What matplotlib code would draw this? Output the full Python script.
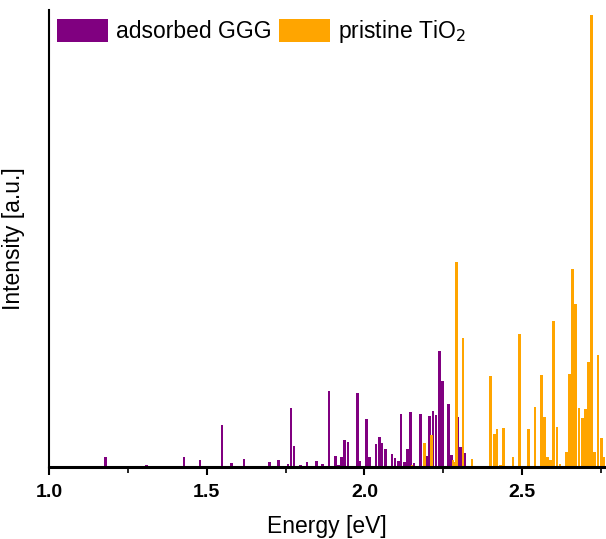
import matplotlib
matplotlib.use("Agg")
import matplotlib.pyplot as plt
from matplotlib.ticker import MultipleLocator, FormatStrFormatter
from matplotlib.patches import Patch

plt.rcParams['font.family'] = ['Liberation Sans', 'DejaVu Sans']

# Excitation energies (eV) and oscillator intensities (a.u.)
ggg_energy = [1.179, 1.309, 1.428, 1.469, 1.479, 1.548, 1.579, 1.618, 1.698, 1.727,
              1.758, 1.767, 1.777, 1.797, 1.818, 1.847, 1.868, 1.888, 1.908, 1.918,
              1.927, 1.937, 1.948, 1.967, 1.977, 1.986, 1.997, 2.007, 2.017, 2.037,
              2.047, 2.056, 2.066, 2.087, 2.097, 2.107, 2.116, 2.127, 2.137, 2.147,
              2.157, 2.177, 2.198, 2.207, 2.217, 2.227, 2.237, 2.247, 2.267, 2.277,
              2.297, 2.305, 2.317]
ggg_intensity = [2.2, 0.4, 2.2, 0.2, 1.5, 9.3, 0.9, 1.8, 1.1, 1.5,
                 0.7, 13.1, 4.6, 0.4, 1.1, 1.3, 0.7, 16.8, 2.4, 0.4,
                 2.2, 6.0, 5.5, 0.2, 16.4, 1.3, 0.2, 10.6, 2.2, 5.1,
                 6.6, 5.4, 4.0, 2.9, 1.9, 1.3, 11.7, 1.1, 3.9, 12.2,
                 0.9, 11.7, 2.5, 11.3, 12.4, 11.4, 25.7, 19.0, 13.9, 2.7,
                 11.1, 4.4, 3.0]

tio2_energy = [2.151, 2.187, 2.191, 2.212, 2.281, 2.285, 2.291, 2.312, 2.341, 2.400,
               2.412, 2.420, 2.431, 2.441, 2.471, 2.491, 2.521, 2.541, 2.551, 2.561,
               2.570, 2.581, 2.590, 2.600, 2.610, 2.620, 2.640, 2.650, 2.660, 2.670,
               2.680, 2.691, 2.700, 2.710, 2.720, 2.730, 2.740, 2.751, 2.760]
tio2_intensity = [0.4, 0.3, 5.2, 7.1, 1.5, 1.1, 45.4, 28.5, 1.8, 20.1,
                  7.4, 8.3, 0.4, 8.7, 2.1, 29.4, 8.5, 13.2, 0.2, 20.4,
                  11.1, 2.3, 1.5, 32.3, 8.8, 0.7, 3.3, 20.6, 43.8, 36.1,
                  13.1, 10.8, 12.8, 23.2, 100.0, 3.3, 24.8, 6.4, 2.2]

series_labels = ["adsorbed GGG", "pristine TiO$_2$"]
series_colors = ["#800080", "#FFA500"]

fig = plt.figure(figsize=(6.06, 5.39), dpi=100)
ax = fig.add_axes([0.081, 0.1336, 0.917, 0.8478])

bar_w = 0.0085
ax.bar(ggg_energy, ggg_intensity, width=bar_w, color=series_colors[0], linewidth=0)
ax.bar(tio2_energy, tio2_intensity, width=bar_w, color=series_colors[1], linewidth=0)

ax.set_xlim(1.0, 2.762)
ax.set_ylim(0, 101.1)

ax.spines['top'].set_visible(False)
ax.spines['right'].set_visible(False)
ax.spines['left'].set_linewidth(1.5)
ax.spines['bottom'].set_linewidth(2.2)

ax.xaxis.set_major_locator(MultipleLocator(0.5))
ax.xaxis.set_minor_locator(MultipleLocator(0.25))
ax.xaxis.set_major_formatter(FormatStrFormatter('%.1f'))
ax.tick_params(axis='x', which='major', direction='out', length=6, width=1.5,
               labelsize=14, pad=6)
ax.tick_params(axis='x', which='minor', direction='out', length=4, width=1.2)
ax.set_yticks([])
for lbl in ax.get_xticklabels():
    lbl.set_fontweight('bold')

ax.set_xlabel("Energy [eV]", fontsize=16.5, labelpad=10)
ax.set_ylabel("Intensity [a.u.]", fontsize=16.5, labelpad=17)

handles = [Patch(facecolor=c, edgecolor='none') for c in series_colors]
ax.legend(handles, series_labels, loc='upper left', ncol=2, frameon=False,
          fontsize=16.5, handlelength=2.2, handleheight=1.2, handletextpad=0.35,
          columnspacing=0.35, borderaxespad=0.15, borderpad=0.2)

fig.savefig("out.png", dpi=100)
